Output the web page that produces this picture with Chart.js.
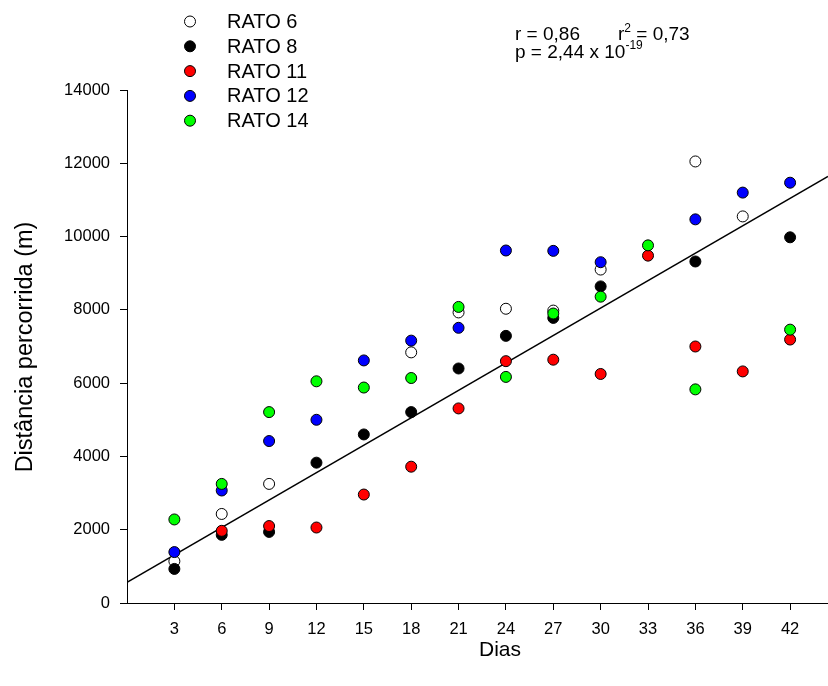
<!DOCTYPE html>
<html>
<head>
<meta charset="utf-8">
<script src="https://cdn.jsdelivr.net/npm/chart.js@4"></script>
<style>
  body { margin: 0; background: #fff; }
  #wrap { width: 828px; height: 686px; }
</style>
</head>
<body>
<div id="wrap"><canvas id="ratChart" width="828" height="686"></canvas></div>
<script>
// days sampled (x axis)
const days = [3, 6, 9, 12, 15, 18, 21, 24, 27, 30, 33, 36, 39, 42];

// distance run (m) per rat, null where no point is visible
const rato6  = [1140, 2430, 3250, null, null, 6840, 7930, 8030, 7980, 9100, null, 12050, 10550, null];
const rato8  = [930, 1860, 1940, 3830, 4600, 5210, 6400, 7290, 7780, 8640, null, 9320, null, 9980];
const rato11 = [null, 1970, 2100, 2060, 2960, 3720, 5310, 6600, 6640, 6250, 9480, 7000, 6320, 7190];
const rato12 = [1390, 3070, 4420, 5000, 6620, 7160, 7510, 9620, 9610, 9300, null, 10470, 11200, 11470];
const rato14 = [2280, 3250, 5210, 6050, 5880, 6140, 8080, 6170, 7900, 8360, 9760, 5830, null, 7460];

const seriesNames = ['RATO 6', 'RATO 8', 'RATO 11', 'RATO 12', 'RATO 14'];
const seriesColors = ['#ffffff', '#000000', '#ff0000', '#0000ff', '#00ff00'];

// fitted regression line
const intercept = 565;
const slope = 249.5;
const xMax = 44.4;

const yTicks = [0, 2000, 4000, 6000, 8000, 10000, 12000, 14000];

const FONT = 'Arial, "Liberation Sans", sans-serif';

function toPoints(values) {
  const pts = [];
  values.forEach(function (v, i) {
    if (v !== null) pts.push({ x: days[i], y: v });
  });
  return pts;
}

const allSeries = [rato6, rato8, rato11, rato12, rato14];
const datasets = allSeries.map(function (vals, i) {
  return {
    label: seriesNames[i],
    data: toPoints(vals),
    backgroundColor: seriesColors[i],
    borderColor: '#000',
    borderWidth: 1,
    pointRadius: 5.5,
    order: 5 - i // later rats drawn on top
  };
});
datasets.push({
  type: 'line',
  label: 'fit',
  data: [{ x: 0, y: intercept }, { x: xMax, y: intercept + slope * xMax }],
  borderColor: '#000',
  borderWidth: 1.4,
  pointRadius: 0,
  fill: false,
  order: 10
});

// legend, stats text and axis titles
const extras = {
  id: 'extras',
  afterDraw(chart) {
    const ctx = chart.ctx;
    ctx.save();
    ctx.fillStyle = '#000';

    // legend
    for (let i = 0; i < seriesNames.length; i++) {
      const y = 21.5 + i * 24.8;
      ctx.beginPath();
      ctx.arc(190, y, 5.5, 0, Math.PI * 2);
      ctx.fillStyle = seriesColors[i];
      ctx.fill();
      ctx.lineWidth = 1;
      ctx.strokeStyle = '#000';
      ctx.stroke();
      ctx.fillStyle = '#000';
      ctx.font = '20px ' + FONT;
      ctx.textAlign = 'left';
      ctx.textBaseline = 'middle';
      ctx.fillText(seriesNames[i], 227, y + 1);
    }

    // statistics
    ctx.textBaseline = 'alphabetic';
    ctx.font = '19px ' + FONT;
    ctx.fillText('r = 0,86', 515, 40);
    ctx.fillText('r', 618, 40);
    let w = ctx.measureText('r').width;
    ctx.font = '12px ' + FONT;
    ctx.fillText('2', 618 + w, 32);
    let w2 = ctx.measureText('2').width;
    ctx.font = '19px ' + FONT;
    ctx.fillText(' = 0,73', 618 + w + w2, 40);
    ctx.fillText('p = 2,44 x 10', 515, 58);
    w = ctx.measureText('p = 2,44 x 10').width;
    ctx.font = '12px ' + FONT;
    ctx.fillText('-19', 515 + w, 49);

    // axis titles
    ctx.font = '21px ' + FONT;
    ctx.textAlign = 'center';
    ctx.fillText('Dias', 500, 656);
    ctx.font = '23.5px ' + FONT;
    ctx.translate(32, 347);
    ctx.rotate(-Math.PI / 2);
    ctx.fillText('Distância percorrida (m)', 0, 0);
    ctx.restore();
  }
};

const ctx = document.getElementById('ratChart').getContext('2d');
const chart = new Chart(ctx, {
  type: 'scatter',
  data: { datasets: datasets },
  options: {
    responsive: false,
    animation: false,
    devicePixelRatio: 1,
    layout: { autoPadding: false, padding: { top: 90, left: 0, right: 0, bottom: 0 } },
    plugins: {
      legend: { display: false },
      tooltip: { enabled: false }
    },
    scales: {
      x: {
        type: 'linear',
        min: 0,
        max: xMax,
        afterBuildTicks: function (scale) {
          scale.ticks = days.map(function (d) { return { value: d }; });
        },
        afterFit: function (scale) {
          scale.height = 83;
          scale.paddingLeft = 0;
          scale.paddingRight = 0;
        },
        grid: { drawOnChartArea: false, drawTicks: true, tickLength: 7, color: '#000', lineWidth: 1 },
        border: { display: true, color: '#000', width: 1 },
        ticks: { color: '#000', font: { family: FONT, size: 16.5 }, padding: 10, maxRotation: 0, autoSkip: false }
      },
      y: {
        min: 0,
        max: 14000,
        afterBuildTicks: function (scale) {
          scale.ticks = yTicks.map(function (v) { return { value: v }; });
        },
        afterFit: function (scale) {
          scale.width = 127;
          scale.paddingTop = 0;
          scale.paddingBottom = 0;
        },
        grid: { drawOnChartArea: false, drawTicks: true, tickLength: 7, color: '#000', lineWidth: 1 },
        border: { display: true, color: '#000', width: 1 },
        ticks: {
          color: '#000',
          font: { family: FONT, size: 16.5 },
          padding: 10,
          callback: function (v) { return String(v); }
        }
      }
    }
  },
  plugins: [extras]
});
</script>
</body>
</html>
